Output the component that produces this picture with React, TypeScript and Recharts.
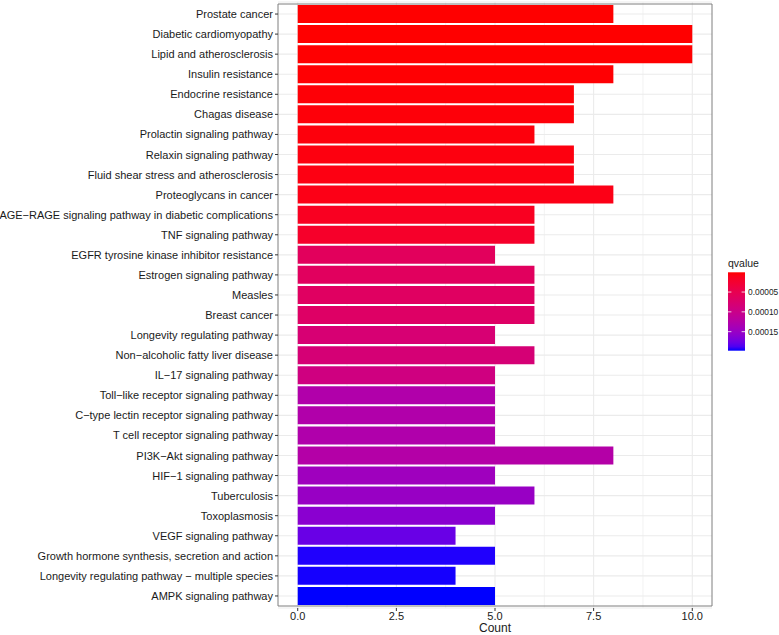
import { BarChart, Bar, XAxis, YAxis, CartesianGrid, Cell, ReferenceArea } from "recharts";

const FONT = '"Liberation Sans", Arial, sans-serif';

const pathways = [
  "Prostate cancer",
  "Diabetic cardiomyopathy",
  "Lipid and atherosclerosis",
  "Insulin resistance",
  "Endocrine resistance",
  "Chagas disease",
  "Prolactin signaling pathway",
  "Relaxin signaling pathway",
  "Fluid shear stress and atherosclerosis",
  "Proteoglycans in cancer",
  "AGE\u2212RAGE signaling pathway in diabetic complications",
  "TNF signaling pathway",
  "EGFR tyrosine kinase inhibitor resistance",
  "Estrogen signaling pathway",
  "Measles",
  "Breast cancer",
  "Longevity regulating pathway",
  "Non\u2212alcoholic fatty liver disease",
  "IL\u221217 signaling pathway",
  "Toll\u2212like receptor signaling pathway",
  "C\u2212type lectin receptor signaling pathway",
  "T cell receptor signaling pathway",
  "PI3K\u2212Akt signaling pathway",
  "HIF\u22121 signaling pathway",
  "Tuberculosis",
  "Toxoplasmosis",
  "VEGF signaling pathway",
  "Growth hormone synthesis, secretion and action",
  "Longevity regulating pathway \u2212 multiple species",
  "AMPK signaling pathway",
];

const counts = [8, 10, 10, 8, 7, 7, 6, 7, 7, 8, 6, 6, 5, 6, 6, 6, 5, 6, 5, 5, 5, 5, 8, 5, 6, 5, 4, 5, 4, 5];

const qvalues = [
  2.0e-7, 3.0e-7, 5.0e-7, 1.2e-6, 2.0e-6, 3.0e-6, 4.0e-6, 5.0e-6, 6.0e-6, 8.0e-6,
  1.4e-5, 2.0e-5, 6.0e-5, 6.2e-5, 6.5e-5, 6.8e-5, 8.0e-5, 8.2e-5, 9.2e-5, 1.28e-4,
  1.28e-4, 1.29e-4, 1.25e-4, 1.45e-4, 1.5e-4, 1.6e-4, 1.78e-4, 1.96e-4, 1.97e-4, 1.98e-4,
];

const xTicks = [0, 2.5, 5, 7.5, 10];
const xMinor = [1.25, 3.75, 6.25, 8.75];
const legendTicks = [0.00005, 0.0001, 0.00015];

const LOW = "#FF0000";
const HIGH = "#0000FF";

// gradient is mixed in Lab space, like ggplot's scale_fill_gradient
const WX = 0.95047;
const WZ = 1.08883;
function toLinear(c: number) {
  c /= 255;
  return c <= 0.04045 ? c / 12.92 : Math.pow((c + 0.055) / 1.055, 2.4);
}
function fromLinear(c: number) {
  const v = c <= 0.0031308 ? 12.92 * c : 1.055 * Math.pow(c, 1 / 2.4) - 0.055;
  return Math.round(Math.min(1, Math.max(0, v)) * 255);
}
function hexToLab(hex: string): number[] {
  const r = toLinear(parseInt(hex.slice(1, 3), 16));
  const g = toLinear(parseInt(hex.slice(3, 5), 16));
  const b = toLinear(parseInt(hex.slice(5, 7), 16));
  const x = (0.4124 * r + 0.3576 * g + 0.1805 * b) / WX;
  const y = 0.2126 * r + 0.7152 * g + 0.0722 * b;
  const z = (0.0193 * r + 0.1192 * g + 0.9505 * b) / WZ;
  const f = (t: number) => (t > 0.008856 ? Math.cbrt(t) : 7.787 * t + 16 / 116);
  const fx = f(x), fy = f(y), fz = f(z);
  return [116 * fy - 16, 500 * (fx - fy), 200 * (fy - fz)];
}
function labToHex([L, a, b]: number[]) {
  const fy = (L + 16) / 116;
  const fx = fy + a / 500;
  const fz = fy - b / 200;
  const inv = (t: number) => (t ** 3 > 0.008856 ? t ** 3 : (t - 16 / 116) / 7.787);
  const x = inv(fx) * WX, y = inv(fy), z = inv(fz) * WZ;
  const r = 3.2406 * x - 1.5372 * y - 0.4986 * z;
  const g = -0.9689 * x + 1.8758 * y + 0.0415 * z;
  const bl = 0.0557 * x - 0.204 * y + 1.057 * z;
  return "#" + [r, g, bl].map((c) => fromLinear(Math.max(0, c)).toString(16).padStart(2, "0")).join("");
}

const labLow = hexToLab(LOW);
const labHigh = hexToLab(HIGH);
const qMin = Math.min(...qvalues);
const qMax = Math.max(...qvalues);

function mix(t: number) {
  return labToHex(labLow.map((v, i) => v + (labHigh[i] - v) * t));
}
function qColor(q: number) {
  return mix((q - qMin) / (qMax - qMin));
}

const rows = pathways.map((name, i) => ({ name, count: counts[i], q: qvalues[i] }));

const TEXT = "#1a1a1a";
const GRID = "#EBEBEB";

// single-line labels (Recharts would wrap the long ones)
function PathwayTick({ x, y, payload }: any) {
  return (
    <text x={x} y={y} textAnchor="end" dominantBaseline="central" fontSize={11} fill={TEXT} fontFamily={FONT}>
      {payload.value}
    </text>
  );
}

function QLegend() {
  const x = 728;
  const top = 272.3;
  const w = 17;
  const h = 78.4;
  const stops = Array.from({ length: 21 }, (_, i) => i / 20);
  return (
    <svg
      width={779}
      height={635}
      style={{ position: "absolute", left: 0, top: 0, pointerEvents: "none" }}
    >
      <defs>
        <linearGradient id="qgrad" x1="0" y1="0" x2="0" y2="1">
          {stops.map((t) => (
            <stop key={t} offset={t} stopColor={mix(t)} />
          ))}
        </linearGradient>
      </defs>
      <text x={x} y={267} fontSize={10.5} fill={TEXT} fontFamily={FONT}>
        qvalue
      </text>
      <rect x={x} y={top} width={w} height={h} fill="url(#qgrad)" />
      {legendTicks.map((v) => {
        const y = top + ((v - qMin) / (qMax - qMin)) * h;
        return (
          <g key={v}>
            <line x1={x} x2={x + 3.4} y1={y} y2={y} stroke="#fff" strokeWidth={0.8} />
            <line x1={x + w - 3.4} x2={x + w} y1={y} y2={y} stroke="#fff" strokeWidth={0.8} />
            <text x={748} y={y} dominantBaseline="central" fontSize={8.4} fill={TEXT} fontFamily={FONT}>
              {v.toFixed(5)}
            </text>
          </g>
        );
      })}
    </svg>
  );
}

export default function App() {
  return (
    <div
      style={{
        position: "absolute",
        left: 0,
        top: 0,
        width: 779,
        height: 635,
        background: "#fff",
        fontFamily: FONT,
      }}
    >
      <BarChart
        width={779}
        height={635}
        data={rows}
        layout="vertical"
        margin={{ top: 2, right: 67, bottom: 0, left: 0 }}
        barCategoryGap="5%"
      >
        <CartesianGrid horizontal={false} verticalValues={xMinor} stroke={GRID} strokeWidth={0.6} />
        <CartesianGrid verticalValues={xTicks} stroke={GRID} strokeWidth={1.1} />
        <XAxis
          type="number"
          dataKey="count"
          domain={[-0.5, 10.5]}
          ticks={xTicks}
          tickFormatter={(v: number) => v.toFixed(1)}
          tick={{ fontSize: 11, fill: TEXT }}
          tickLine={{ stroke: "#333" }}
          tickSize={3}
          tickMargin={1}
          axisLine={false}
          height={27}
          label={{ value: "Count", position: "insideBottom", offset: 3, fontSize: 12, fill: TEXT }}
        />
        <YAxis
          type="category"
          dataKey="name"
          width={278}
          interval={0}
          padding={{ top: 2, bottom: 2 }}
          tick={<PathwayTick />}
          tickLine={{ stroke: "#333" }}
          tickSize={3}
          tickMargin={2}
          axisLine={false}
        />
        <Bar dataKey="count" isAnimationActive={false}>
          {rows.map((r) => (
            <Cell key={r.name} fill={qColor(r.q)} />
          ))}
        </Bar>
        <ReferenceArea
          x1={-0.5}
          x2={10.5}
          fill="none"
          fillOpacity={0}
          stroke="#7F7F7F"
          strokeWidth={1}
          ifOverflow="visible"
        />
      </BarChart>
      <QLegend />
    </div>
  );
}
